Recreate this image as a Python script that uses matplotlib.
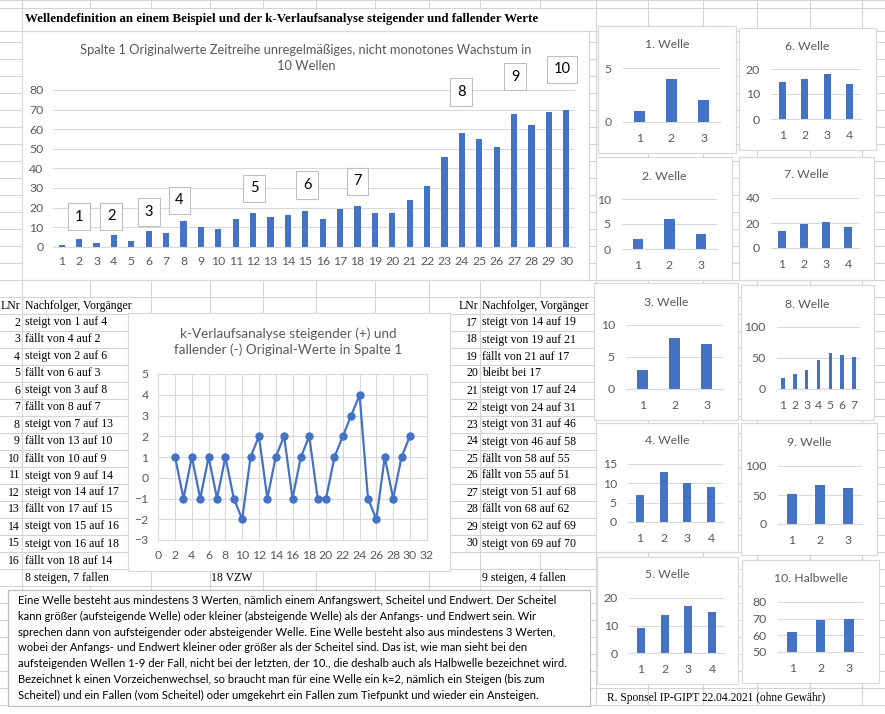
import matplotlib
matplotlib.use("Agg")
import matplotlib.pyplot as plt
from matplotlib.patches import Rectangle

plt.rcParams['font.family'] = ['Lato', 'DejaVu Sans']

W, H = 885, 714

# Originalwerte Spalte 1 (30 Werte)
werte = [1, 4, 2, 6, 3, 8, 7, 13, 10, 9, 14, 17, 15, 16, 18, 14, 19, 21, 17, 17,
         24, 31, 46, 58, 55, 51, 68, 62, 69, 70]
zeit = list(range(1, 31))

# k-Verlaufsanalyse (+ steigt, - faellt)
k_x = list(range(2, 31))
k_werte = [1, -1, 1, -1, 1, -1, 1, -1, -2, 1, 2, -1, 1, 2, -1, 1, 2, -1, -1,
           1, 2, 3, 4, -1, -2, 1, -1, 1, 2]

wellen_nr = ['1', '2', '3', '4', '5', '6', '7', '8', '9', '10']

welle_titel = ['1. Welle', '2. Welle', '3. Welle', '4. Welle', '5. Welle',
               '6. Welle', '7. Welle', '8. Welle', '9. Welle', '10. Halbwelle']
welle_werte = [[1, 4, 2], [2, 6, 3], [3, 8, 7], [7, 13, 10, 9], [9, 14, 17, 15],
               [15, 16, 18, 14], [14, 19, 21, 17], [17, 24, 31, 46, 58, 55, 51],
               [51, 68, 62], [62, 69, 70]]
welle_yticks = [[0, 5], [0, 5, 10], [0, 5, 10], [0, 5, 10, 15], [0, 10, 20],
                [0, 10, 20], [0, 20, 40], [0, 50, 100], [0, 50, 100], [50, 60, 70, 80]]

erklaerung = [
    "Eine Welle besteht aus mindestens 3 Werten, nämlich einem Anfangswert, Scheitel und Endwert. Der Scheitel",
    "kann größer (aufsteigende Welle) oder kleiner (absteigende Welle) als der Anfangs- und Endwert sein. Wir",
    "sprechen dann von aufsteigender oder absteigender Welle. Eine Welle besteht also aus mindestens 3 Werten,",
    "wobei der Anfangs- und Endwert kleiner oder größer als der Scheitel sind. Das ist, wie man sieht bei den",
    "aufsteigenden Wellen 1-9 der Fall, nicht bei der letzten, der 10., die deshalb auch als Halbwelle bezeichnet wird.",
    "Bezeichnet k einen Vorzeichenwechsel, so braucht man für eine Welle ein k=2, nämlich ein Steigen (bis zum",
    "Scheitel) und ein Fallen (vom Scheitel) oder umgekehrt ein Fallen zum Tiefpunkt und wieder ein Ansteigen.",
]

BLAU = '#4472C4'
GRAU_TXT = '#595959'
GRAU_LIN = '#d9d9d9'
SERIF = 'Liberation Serif'
TAB_FS = 8.5
TICK_FS = 8.8


def verlauf(a, b):
    if b > a:
        return f"steigt von {a} auf {b}"
    if b < a:
        return f"fällt von {a} auf {b}"
    return f"bleibt bei {a}"


fig = plt.figure(figsize=(W / 100, H / 100), dpi=100)
fig.patch.set_facecolor('white')


def px_axes(x0, y0, x1, y1):
    return fig.add_axes([x0 / W, 1 - y1 / H, (x1 - x0) / W, (y1 - y0) / H])


# Tabellenblatt im Hintergrund
bg = px_axes(0, 0, W, H)
bg.set_xlim(0, W)
bg.set_ylim(H, 0)
bg.axis('off')

spalten = [22, 90, 151, 210, 263, 316, 375, 429, 480, 540, 596, 648, 703, 757, 810, 862]
zeilen = [0, 8, 31] + [42 + 17 * i for i in range(40)]
for y in zeilen:
    bg.plot([0, W], [y, y], color='#d4d4d4', lw=0.8, zorder=1)


def verdeckt(x, y0, y1):
    if y0 >= 8 and y1 <= 31 and 90 <= x <= 540:
        return True
    if x == 90 and y0 >= 297 and y1 <= 586:
        return True
    if x == 540 and ((y0 >= 297 and y1 <= 552) or (y0 >= 569 and y1 <= 586)):
        return True
    return False


for x in spalten:
    for y0, y1 in zip(zeilen[:-1], zeilen[1:]):
        if not verdeckt(x, y0, y1):
            bg.plot([x, x], [y0, y1], color='#d4d4d4', lw=0.8, zorder=1)


def rahmen(x0, y0, x1, y1, ec=GRAU_LIN):
    bg.add_patch(Rectangle((x0, y0), x1 - x0, y1 - y0, fc='white', ec=ec, lw=0.9, zorder=3))


def stil(ax):
    for s in ax.spines.values():
        s.set_visible(False)
    ax.spines['bottom'].set_visible(True)
    ax.spines['bottom'].set_color(GRAU_LIN)
    ax.set_facecolor('none')
    ax.grid(axis='y', color=GRAU_LIN, lw=0.8)
    ax.set_axisbelow(True)
    ax.tick_params(length=0, colors=GRAU_TXT)


# Ueberschrift
bg.text(25, 19, "Wellendefinition an einem Beispiel und der k-Verlaufsanalyse steigender und fallender Werte",
        family=SERIF, fontweight='bold', fontsize=9.3, va='center', ha='left', zorder=4)

# Hauptdiagramm
rahmen(22, 31, 589, 280)
bg.text(306, 58, "Spalte 1 Originalwerte Zeitreihe unregelmäßiges, nicht monotones Wachstum in\n10 Wellen",
        ha='center', va='center', fontsize=9.3, color=GRAU_TXT, linespacing=1.3, zorder=4)
ax = px_axes(53, 90, 575, 246.7)
ax.bar(zeit, werte, width=0.36, color=BLAU, zorder=2)
ax.set_xlim(0.5, 30.5)
ax.set_ylim(0, 80)
ax.set_yticks(range(0, 81, 10))
ax.set_xticks(zeit)
stil(ax)
ax.tick_params(labelsize=TICK_FS, pad=7)

label_pos = [(2.0, 15.2), (3.85, 15.5), (6.0, 17.7), (7.76, 23.8), (12.05, 29.8),
             (15.1, 31.5), (18.0, 33.5), (23.96, 79), (27.06, 86.7), (29.77, 90.5)]
for nr, (lx, ly) in zip(wellen_nr, label_pos):
    ax.text(lx, ly, nr, ha='center', va='center', fontsize=10.5, clip_on=False,
            bbox=dict(boxstyle='square,pad=0.45', fc='white', ec='#bfbfbf', lw=0.8))

# k-Verlauf
rahmen(128, 313, 450, 571)
bg.text(288, 342, "k-Verlaufsanalyse steigender (+) und\nfallender (-) Original-Werte in Spalte 1",
        ha='center', va='center', fontsize=9.7, color=GRAU_TXT, linespacing=1.3, zorder=4)
ax2 = px_axes(158.3, 374, 426.7, 540)
ax2.plot(k_x, k_werte, '-o', color=BLAU, lw=1.6, ms=5, zorder=3)
ax2.set_xlim(0, 32)
ax2.set_ylim(-3, 5)
ax2.set_xticks(range(0, 33, 2))
ax2.set_yticks(range(-3, 6))
ax2.set_facecolor('none')
ax2.grid(color=GRAU_LIN, lw=0.8)
ax2.set_axisbelow(True)
for s in ax2.spines.values():
    s.set_color(GRAU_LIN)
    s.set_linewidth(0.8)
ax2.tick_params(length=0, colors=GRAU_TXT, labelsize=TICK_FS, pad=7)

# Tabellen
for i in range(1, 30):
    txt = verlauf(werte[i - 1], werte[i])
    lnr = i + 1
    if lnr <= 16:
        y = 322.5 + 17 * (lnr - 2)
        xr, xl = 20, 25
    else:
        y = 322.5 + 17 * (lnr - 17)
        xr, xl = 478, 482
    bg.text(xr, y, str(lnr), family=SERIF, fontsize=TAB_FS, ha='right', va='center', zorder=4)
    bg.text(xl, y, txt, family=SERIF, fontsize=TAB_FS, ha='left', va='center', zorder=4)

for xr, xl in [(20, 25), (478, 482)]:
    bg.text(xr, 306, "LNr", family=SERIF, fontsize=TAB_FS, ha='right', va='center', zorder=4)
    bg.text(xl, 306, "Nachfolger, Vorgänger", family=SERIF, fontsize=TAB_FS, ha='left', va='center', zorder=4)

bg.text(25, 578, "8 steigen, 7 fallen", family=SERIF, fontsize=TAB_FS, va='center', zorder=4)
bg.text(211, 578, "18 VZW", family=SERIF, fontsize=TAB_FS, va='center', zorder=4)
bg.text(482, 578, "9 steigen, 4 fallen", family=SERIF, fontsize=TAB_FS, va='center', zorder=4)

# Erklaerung
rahmen(8, 590, 590, 706, ec='#bfbfbf')
for i, zeile in enumerate(erklaerung):
    bg.text(18, 600.5 + i * 15.8, zeile, fontsize=8, color='black', va='center', zorder=4)

bg.text(607, 698, "R. Sponsel IP-GIPT 22.04.2021 (ohne Gewähr)", family=SERIF, fontsize=8.3,
        va='center', zorder=4)

# kleine Wellen-Diagramme: Rahmen, Plotflaeche, Titel-y
kleine = [
    ((598, 26, 736, 153), (623, 68, 720, 122), 45),
    ((596, 157, 732, 280), (622, 199, 717, 249), 176),
    ((594, 283, 738, 420), (626, 325, 723, 389), 302),
    ((596, 423, 738, 552), (628, 464, 723, 522), 441),
    ((597, 557, 738, 684), (629, 598, 724, 653), 575),
    ((739, 28, 876, 150), (771, 69, 861, 119), 46),
    ((739, 157, 874, 280), (771, 198, 859, 248), 175),
    ((741, 285, 874, 420), (777, 327, 860, 389), 304),
    ((741, 423, 877, 555), (778, 466, 862, 524), 442),
    ((742, 560, 879, 683), (778, 602, 863, 652), 579),
]
for (box, area, ty), titel, vals, ticks in zip(kleine, welle_titel, welle_werte, welle_yticks):
    rahmen(*box)
    bg.text((box[0] + box[2]) / 2, ty, titel, ha='center', va='center', fontsize=8.8,
            color=GRAU_TXT, zorder=4)
    a = px_axes(*area)
    n = list(range(1, len(vals) + 1))
    a.bar(n, vals, width=0.33 if len(vals) < 7 else 0.3, color=BLAU, zorder=2)
    a.set_xlim(0.5, len(vals) + 0.5)
    a.set_ylim(ticks[0], ticks[-1])
    a.set_yticks(ticks)
    a.set_xticks(n)
    stil(a)
    a.tick_params(labelsize=TICK_FS, pad=8)

fig.savefig('out.png', dpi=100, facecolor='white')
